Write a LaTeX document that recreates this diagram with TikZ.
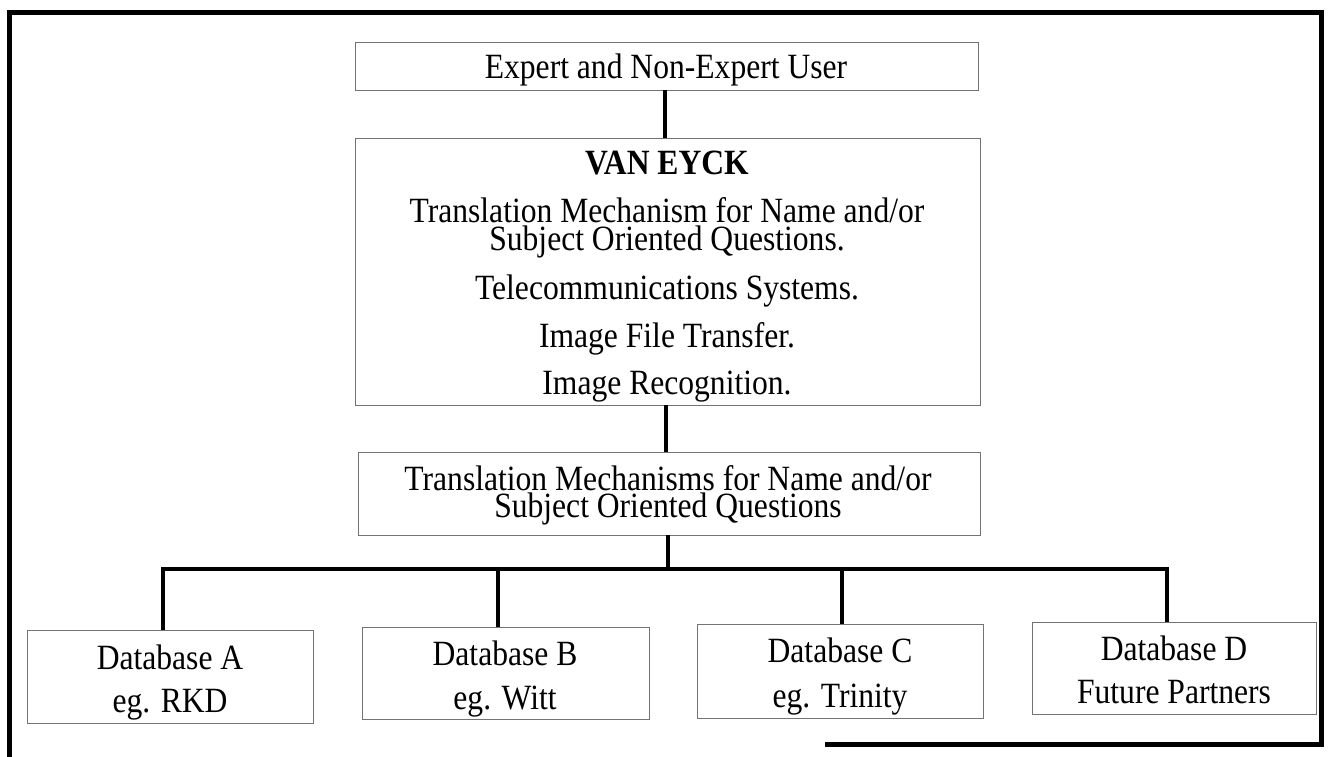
\documentclass[tikz,border=0pt]{standalone}
\usepackage{fontspec}
\setmainfont{Liberation Serif}[FakeStretch=0.89]
\begin{document}
\begin{tikzpicture}[x=1pt,y=-1pt,
  box/.style={draw=black!55, line width=0.9pt, inner sep=0pt},
  txt/.style={anchor=base, inner sep=0pt, font=\fontsize{35.5}{38}\selectfont},
  pair/.style={txt, align=center},
  link/.style={line width=4pt, black, line join=miter},
  frame/.style={line width=5pt, black, line join=miter}]
\useasboundingbox (0,0) rectangle (1330,757);
% outer frame
\coordinate (f1) at (825,744);
\coordinate (f2) at (1321,744);
\coordinate (f3) at (1321,13);
\coordinate (f4) at (9,13);
\coordinate (f5) at (9,757);
\draw[frame] (f1) -- (f2) -- (f3) -- (f4) -- (f5);
% boxes
\node[box, minimum width=623pt, minimum height=48pt] (b1) at (666.5,66) {};
\node[box, minimum width=625pt, minimum height=267pt] (b2) at (667.5,271.5) {};
\node[box, minimum width=622pt, minimum height=83pt] (b3) at (669,493.5) {};
\node[box, minimum width=286pt, minimum height=93pt] (dA) at (170,676.5) {};
\node[box, minimum width=287pt, minimum height=92pt] (dB) at (505.5,673) {};
\node[box, minimum width=286pt, minimum height=94pt] (dC) at (840,671) {};
\node[box, minimum width=284pt, minimum height=92pt] (dD) at (1174,668) {};
% texts
\node[txt] (t1) at (666,79) {Expert and Non-Expert User};
\node[txt] (v0) at (667,174) {\bfseries VAN EYCK};
\node[pair] (v1) at (667,250) {Translation Mechanism for Name and/or\\[-10.5pt]Subject Oriented Questions.};
\node[txt] (v3) at (667,299) {Telecommunications Systems.};
\node[txt] (v4) at (667,347) {Image File Transfer.};
\node[txt] (v5) at (667,394) {Image Recognition.};
\node[pair] (w1) at (668,517) {Translation Mechanisms for Name and/or\\[-11pt]Subject Oriented Questions};
\node[txt] (a1) at (170,669) {Database A};
\node[txt] (a2) at (170,712) {eg. RKD};
\node[txt] (bb1) at (505,665) {Database B};
\node[txt] (bb2) at (505,709) {eg. Witt};
\node[txt] (c1) at (840,662) {Database C};
\node[txt] (c2) at (840,707) {eg. Trinity};
\node[txt] (d1) at (1174,660) {Database D};
\node[txt] (d2) at (1174,703) {Future Partners};
% connectors
\coordinate (bus) at (668,569);
\coordinate (pa) at (163,630);
\coordinate (pb) at (498,627);
\coordinate (pc) at (842,624);
\coordinate (pd) at (1167,622);
\draw[link] (b1.south -| 665,0) -- (b2.north -| 665,0);
\draw[link] (b2.south -| 666,0) -- (b3.north -| 666,0);
\draw[link] (b3.south -| bus) -- (bus);
\draw[link] (pa) -- (pa |- bus) -- (pd |- bus) -- (pd);
\draw[link] (pb |- bus) -- (pb);
\draw[link] (pc |- bus) -- (pc);
\end{tikzpicture}
\end{document}
